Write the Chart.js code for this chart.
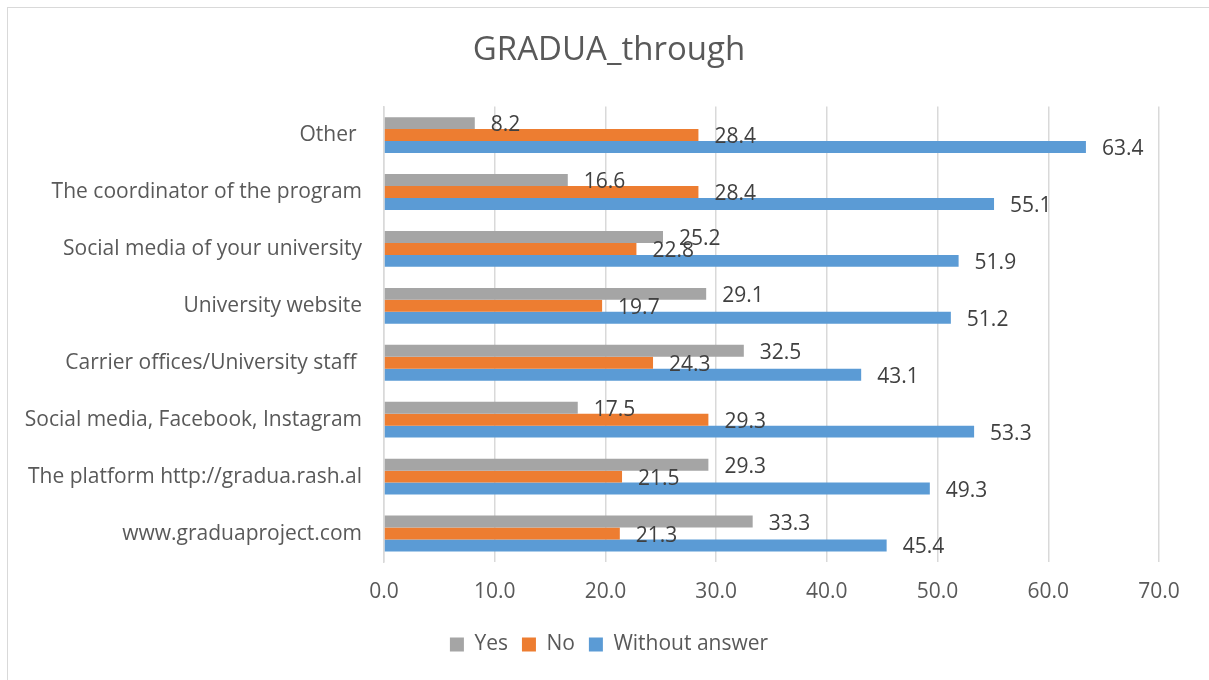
<!DOCTYPE html>
<html>
<head>
<meta charset="utf-8">
<script src="https://cdn.jsdelivr.net/npm/chart.js@4.4.1/dist/chart.umd.min.js"></script>
<style>
  html, body { margin: 0; padding: 0; background: #fff; }
  #wrap { position: relative; width: 1209px; height: 680px; overflow: hidden; }
  #frame { position: absolute; left: 7px; top: 7px; width: 1220px; height: 700px; border: 1px solid #d9d9d9; box-sizing: border-box; pointer-events: none; }
  canvas { position: absolute; left: 0; top: 0; }
</style>
</head>
<body>
<div id="wrap">
  <canvas id="c" width="1209" height="680"></canvas>
  <div id="frame"></div>
</div>
<script>
const categories = [
  "Other ",
  "The coordinator of the program",
  "Social media of your university",
  "University website",
  "Carrier offices/University staff ",
  "Social media, Facebook, Instagram",
  "The platform http://gradua.rash.al",
  "www.graduaproject.com"
];
const yesValues = [8.2, 16.6, 25.2, 29.1, 32.5, 17.5, 29.3, 33.3];
const noValues = [28.4, 28.4, 22.8, 19.7, 24.3, 29.3, 21.5, 21.3];
const withoutValues = [63.4, 55.1, 51.9, 51.2, 43.1, 53.3, 49.3, 45.4];
const seriesNames = ["Yes", "No", "Without answer"];
const xTicks = [0, 10, 20, 30, 40, 50, 60, 70];

const FONT = "'Open Sans', 'Liberation Sans', sans-serif";
const TEXT = "#595959";

const dataLabels = {
  id: 'dataLabels',
  afterDatasetsDraw(chart) {
    const ctx = chart.ctx;
    ctx.save();
    ctx.font = "21px " + FONT;
    ctx.fillStyle = "#404040";
    ctx.textAlign = "left";
    ctx.textBaseline = "middle";
    chart.data.datasets.forEach((ds, i) => {
      const meta = chart.getDatasetMeta(i);
      meta.data.forEach((bar, j) => {
        ctx.fillText(ds.data[j].toFixed(1), bar.x + 16, bar.y + 2);
      });
    });
    ctx.restore();
  }
};

new Chart(document.getElementById('c'), {
  type: 'bar',
  data: {
    labels: categories,
    datasets: [
      { label: seriesNames[0], data: yesValues, backgroundColor: '#A5A5A5' },
      { label: seriesNames[1], data: noValues, backgroundColor: '#ED7D31' },
      { label: seriesNames[2], data: withoutValues, backgroundColor: '#5B9BD5' }
    ]
  },
  options: {
    indexAxis: 'y',
    responsive: false,
    animation: false,
    devicePixelRatio: 1,
    layout: { padding: { left: 10, right: 1, top: 10, bottom: 15 } },
    datasets: { bar: { categoryPercentage: 0.63, barPercentage: 1.0 } },
    scales: {
      x: {
        min: 0, max: 70,
        afterBuildTicks: s => { s.ticks = xTicks.map(v => ({ value: v })); },
        afterFit: s => { s.height = 58; },
        ticks: { color: TEXT, font: { family: FONT, size: 21 }, padding: 17, callback: v => Number(v).toFixed(1), maxRotation: 0 },
        grid: { color: '#D9D9D9', lineWidth: 1.5, drawTicks: false },
        border: { display: false }
      },
      y: {
        afterFit: s => { s.width = 374; },
        ticks: { color: TEXT, font: { family: FONT, size: 21 }, padding: 22 },
        grid: { display: false, drawTicks: false },
        border: { display: true, color: '#D9D9D9', width: 1.5 }
      },
      yRight: {
        type: 'linear',
        position: 'right',
        display: true,
        afterFit: s => { s.width = 49; },
        ticks: { display: false },
        grid: { display: false, drawTicks: false },
        border: { display: false }
      }
    },
    plugins: {
      title: {
        display: true,
        text: 'GRADUA_through',
        color: TEXT,
        font: { family: FONT, size: 33, weight: 'normal' },
        padding: { top: 21, bottom: 36 }
      },
      legend: {
        position: 'bottom',
        labels: { color: TEXT, font: { family: FONT, size: 21 }, boxWidth: 14, boxHeight: 14, padding: 14 }
      },
      tooltip: { enabled: false }
    }
  },
  plugins: [dataLabels]
});
</script>
</body>
</html>
